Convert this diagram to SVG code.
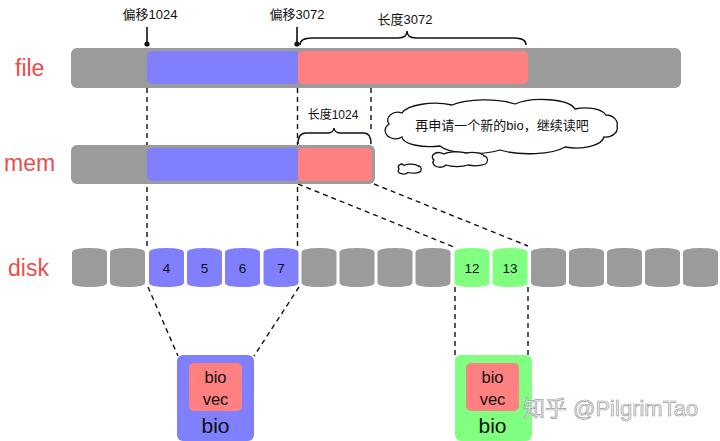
<svg xmlns="http://www.w3.org/2000/svg" width="720" height="441" viewBox="0 0 720 441">
  <style>
    .row-label { font-family: "Liberation Sans", Arial, sans-serif; font-size: 23px; fill: #ee4c4c; }
    .note { font-family: "Liberation Sans", "Noto Sans CJK SC", sans-serif; font-size: 13px; fill: #111; }
    .num { font-family: "Liberation Sans", Arial, sans-serif; font-size: 13.5px; fill: #111; text-anchor: middle; }
    .bio-in { font-family: "Liberation Sans", Arial, sans-serif; font-size: 16.5px; fill: #111; text-anchor: middle; }
    .bio-out { font-family: "Liberation Sans", Arial, sans-serif; font-size: 21px; fill: #111; text-anchor: middle; }
    .gray { fill: #9b9b9b; }
    .blue { fill: #8080ff; }
    .red { fill: #ff8080; }
    .green { fill: #80ff80; }
    .dash { stroke: #111; stroke-width: 1.4; stroke-dasharray: 5 4; fill: none; }
    .brace { stroke: #111; stroke-width: 1.5; fill: none; }
    .cloud { stroke: #111; stroke-width: 1.3; fill: #fff; }
  </style>
  <defs>
    <!-- barrel-shaped disk block, 35 x 39 -->
    <path id="blk" d="M0,4.5 Q0,0 17.5,0 Q35,0 35,4.5 L35,34.5 Q35,39 17.5,39 Q0,39 0,34.5 Z"/>
  </defs>

  <rect width="720" height="441" fill="#fff"/>

  <!-- connectors (dashed guides) -->
  <g id="connectors">
    <line class="dash" x1="147" y1="88" x2="147" y2="247"/>
    <line class="dash" x1="297.5" y1="88" x2="297.5" y2="247"/>
    <line class="dash" x1="371" y1="88" x2="371" y2="130"/>
    <line class="dash" x1="298" y1="184" x2="454" y2="247"/>
    <line class="dash" x1="374" y1="184" x2="528" y2="246"/>
    <line class="dash" x1="148" y1="287" x2="178" y2="356"/>
    <line class="dash" x1="299" y1="287" x2="254" y2="356"/>
    <line class="dash" x1="455" y1="287" x2="455" y2="356"/>
    <line class="dash" x1="528" y1="287" x2="528" y2="356"/>
  </g>

  <!-- row labels -->
  <text class="row-label" x="15" y="76">file</text>
  <text class="row-label" x="4" y="171">mem</text>
  <text class="row-label" x="8" y="276">disk</text>

  <!-- file bar -->
  <g id="file">
    <rect class="gray" x="71" y="48" width="610" height="40" rx="6"/>
    <rect class="blue" x="147" y="51" width="152" height="33" rx="5"/>
    <rect class="red" x="298" y="51" width="230" height="33" rx="5"/>
  </g>

  <!-- offset markers -->
  <g id="offset-1024">
    <line x1="147" y1="27" x2="147" y2="44" stroke="#111" stroke-width="1.6"/>
    <circle cx="147" cy="44" r="2.6" fill="#111"/>
    <text class="note" x="150" y="19" text-anchor="middle">偏移1024</text>
  </g>
  <g id="offset-3072">
    <line x1="297" y1="27" x2="297" y2="44" stroke="#111" stroke-width="1.6"/>
    <circle cx="297" cy="44" r="2.6" fill="#111"/>
    <text class="note" x="297" y="19" text-anchor="middle">偏移3072</text>
  </g>

  <!-- length brace over file -->
  <g id="len-3072">
    <path class="brace" d="M300,45 C300,40 304,38 312,38 L398,38 C404,38 407,35 407,31 C407,35 410,38 416,38 L514,38 C522,38 526,40 526,45"/>
    <text class="note" x="405" y="24" text-anchor="middle">长度3072</text>
  </g>

  <!-- mem bar -->
  <g id="mem">
    <rect class="gray" x="71" y="145" width="304" height="39" rx="6"/>
    <rect class="blue" x="147" y="148" width="152" height="33" rx="5"/>
    <rect class="red" x="298" y="148" width="74" height="33" rx="4"/>
  </g>

  <!-- length brace over mem -->
  <g id="len-1024">
    <path class="brace" d="M298,144 C298,137 300,133 306,133 L327,133 C331,133 334,131 334,128 C334,131 337,133 341,133 L364,133 C369,133 371,137 371,144"/>
    <text class="note" x="333" y="119" text-anchor="middle" style="font-size:12px">长度1024</text>
  </g>

  <!-- thought cloud -->
  <g id="thought">
    <path class="cloud" d="M389,124 A10 8 0 0 1 402,113 A34 13 0 0 1 452,105 A40 12 0 0 1 515,104 A34 12 0 0 1 575,109 A22 10 0 0 1 606,115 A12 9 0 0 1 617,126 A12 9 0 0 1 604,137 A28 12 0 0 1 565,147 A40 12 0 0 1 500,150 A36 11 0 0 1 440,146 A28 10 0 0 1 402,137 A10 8 0 0 1 389,124 Z"/>
    <path class="cloud" d="M434,160 A6 4 0 0 1 444,154 A14 4 0 0 1 466,153 A12 4 0 0 1 484,156 A4 4 0 0 1 487,162 A12 4 0 0 1 468,165 A14 4 0 0 1 446,165 A6 4 0 0 1 434,160 Z"/>
    <path class="cloud" d="M399,169 A3 3 0 0 1 404,165.5 A8 3 0 0 1 418,166 A3 3 0 0 1 421,170 A8 3 0 0 1 408,172.5 A5 3 0 0 1 399,169 Z"/>
    <text class="note" x="502" y="130" text-anchor="middle">再申请一个新的bio，继续读吧</text>
  </g>

  <!-- disk blocks -->
  <g id="disk">
    <use href="#blk" class="gray" x="72" y="248"/>
    <use href="#blk" class="gray" x="110" y="248"/>
    <use href="#blk" class="blue" x="149" y="248"/>
    <use href="#blk" class="blue" x="187" y="248"/>
    <use href="#blk" class="blue" x="225" y="248"/>
    <use href="#blk" class="blue" x="263.5" y="248"/>
    <use href="#blk" class="gray" x="301.5" y="248"/>
    <use href="#blk" class="gray" x="339.5" y="248"/>
    <use href="#blk" class="gray" x="377.5" y="248"/>
    <use href="#blk" class="gray" x="415.5" y="248"/>
    <use href="#blk" class="green" x="454.5" y="248"/>
    <use href="#blk" class="green" x="492.5" y="248"/>
    <use href="#blk" class="gray" x="531" y="248"/>
    <use href="#blk" class="gray" x="569" y="248"/>
    <use href="#blk" class="gray" x="607" y="248"/>
    <use href="#blk" class="gray" x="645" y="248"/>
    <use href="#blk" class="gray" x="683" y="248"/>
    <text class="num" x="166.5" y="273">4</text>
    <text class="num" x="204.5" y="273">5</text>
    <text class="num" x="242.5" y="273">6</text>
    <text class="num" x="281" y="273">7</text>
    <text class="num" x="472" y="273">12</text>
    <text class="num" x="510" y="273">13</text>
  </g>

  <!-- bio for blocks 4-7 -->
  <g id="bio-a">
    <rect class="blue" x="177" y="355" width="77" height="86" rx="6"/>
    <rect class="red" x="189" y="363" width="53" height="48" rx="5"/>
    <text class="bio-in" x="215.5" y="383">bio</text>
    <text class="bio-in" x="215.5" y="405">vec</text>
    <text class="bio-out" x="215.5" y="433">bio</text>
  </g>

  <!-- bio for blocks 12-13 -->
  <g id="bio-b">
    <rect class="green" x="455" y="355" width="77" height="86" rx="6"/>
    <rect class="red" x="466" y="363" width="53" height="48" rx="5"/>
    <text class="bio-in" x="492.5" y="383">bio</text>
    <text class="bio-in" x="492.5" y="405">vec</text>
    <text class="bio-out" x="492.5" y="433">bio</text>
  </g>

  <!-- signature -->
  <text x="523" y="416" font-family="'Liberation Sans', 'Noto Sans CJK SC', sans-serif" font-size="22" fill="#f2f2f2" stroke="#a0a0a0" stroke-width="0.7">知乎 @PilgrimTao</text>
</svg>
